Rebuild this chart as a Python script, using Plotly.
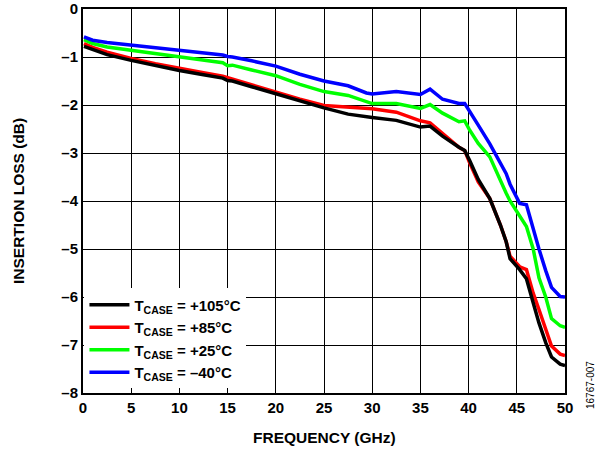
import plotly.graph_objects as go

freq_ghz = [0.1, 1, 2.5, 5, 7.5, 10, 12.5, 14.5, 15, 15.5, 17.5, 20, 22.5, 25, 27.5, 29.4, 30,
            32.5, 35, 36, 37.3, 39, 39.6, 40.1, 41, 42.2, 43.3, 43.9, 44.3, 45.3, 46, 46.7,
            47.3, 48, 48.6, 49.5, 50]

loss_m40 = [-0.58, -0.65, -0.70, -0.755, -0.81, -0.86, -0.91, -0.96, -0.99, -1.0, -1.08, -1.19,
            -1.36, -1.5, -1.6, -1.75, -1.77, -1.72, -1.78, -1.67, -1.88, -1.97, -1.97, -2.12,
            -2.42, -2.81, -3.2, -3.43, -3.65, -4.05, -4.08, -4.6, -5.0, -5.45, -5.8, -5.99, -6.0]

loss_p25 = [-0.64, -0.72, -0.79, -0.86, -0.94, -1.01, -1.08, -1.12, -1.18, -1.17, -1.27, -1.39,
            -1.57, -1.72, -1.8, -1.93, -1.97, -1.97, -2.07, -1.99, -2.17, -2.35, -2.33, -2.52,
            -2.8, -3.08, -3.6, -3.84, -4.0, -4.3, -4.53, -5.0, -5.6, -6.0, -6.45, -6.6, -6.63]

loss_p85 = [-0.72, -0.8, -0.9, -1.03, -1.14, -1.24, -1.33, -1.4, -1.43, -1.45, -1.57, -1.72,
            -1.88, -2.01, -2.05, -2.08, -2.08, -2.15, -2.33, -2.37, -2.6, -2.88, -2.95, -3.2,
            -3.6, -3.95, -4.5, -4.85, -5.15, -5.37, -5.43, -5.92, -6.26, -6.68, -7.02, -7.19, -7.22]

loss_p105 = [-0.78, -0.85, -0.95, -1.07, -1.18, -1.28, -1.37, -1.44, -1.49, -1.5, -1.62, -1.77,
             -1.91, -2.06, -2.19, -2.25, -2.26, -2.32, -2.46, -2.44, -2.65, -2.88, -2.95, -3.15,
             -3.55, -3.95, -4.5, -4.85, -5.2, -5.43, -5.62, -6.12, -6.54, -6.95, -7.25, -7.4, -7.43]

series_names = ["T<sub>CASE</sub> = +105°C", "T<sub>CASE</sub> = +85°C",
                "T<sub>CASE</sub> = +25°C", "T<sub>CASE</sub> = –40°C"]
series_colors = ["#000000", "#FF0000", "#00FF00", "#0000FF"]
series_values = [loss_p105, loss_p85, loss_p25, loss_m40]

x_ticks = [0, 5, 10, 15, 20, 25, 30, 35, 40, 45, 50]
y_ticks = [0, -1, -2, -3, -4, -5, -6, -7, -8]
y_tick_text = ["0", "–1", "–2", "–3", "–4", "–5", "–6", "–7", "–8"]

FONT = "Liberation Sans, Arial, sans-serif"

fig = go.Figure()
draw_order = [1, 0, 2, 3]
for i in draw_order:
    fig.add_trace(go.Scatter(
        x=freq_ghz, y=series_values[i], mode="lines",
        name="<b>" + series_names[i] + "</b>",
        line=dict(color=series_colors[i], width=3.5),
        legendrank=i + 1,
    ))

axis_font = dict(family=FONT, size=15, color="black")

fig.update_layout(
    width=605, height=449,
    margin=dict(l=83, r=40, t=9, b=56),
    paper_bgcolor="white", plot_bgcolor="white",
    font=dict(family=FONT, color="black"),
    showlegend=True,
    legend=dict(
        x=0.003, y=0.012, xanchor="left", yanchor="bottom",
        bgcolor="white", borderwidth=0,
        font=dict(family=FONT, size=15, color="black"),
        tracegroupgap=0, itemwidth=40,
    ),
    xaxis=dict(
        range=[0, 50], tickvals=x_ticks, ticktext=[f"<b>{v}</b>" for v in x_ticks],
        showgrid=True, gridcolor="black", gridwidth=1.3,
        showline=True, linecolor="black", linewidth=2, mirror=True,
        zeroline=False, ticks="", tickfont=axis_font, automargin=False,
        ticklabeloverflow="allow",
    ),
    yaxis=dict(
        range=[-8, 0], tickvals=y_ticks, ticktext=[f"<b>{t}</b>" for t in y_tick_text],
        showgrid=True, gridcolor="black", gridwidth=1.3,
        showline=True, linecolor="black", linewidth=2, mirror=True,
        zeroline=False, ticks="", tickfont=axis_font, automargin=False,
        ticklabeloverflow="allow",
    ),
)

fig.add_annotation(
    text="<b>FREQUENCY (GHz)</b>", x=0.5, y=0, xref="paper", yref="paper",
    xanchor="center", yanchor="middle", yshift=-44, showarrow=False,
    font=dict(family=FONT, size=15.5, color="black"),
)
fig.add_annotation(
    text="<b>INSERTION LOSS (dB)</b>", x=0, y=0.5, xref="paper", yref="paper",
    xanchor="center", yanchor="middle", xshift=-65, textangle=-90, showarrow=False,
    font=dict(family=FONT, size=15.5, color="black"),
)
fig.add_annotation(
    text="16767-007", x=1.0, y=0.0, xref="paper", yref="paper",
    xanchor="center", yanchor="middle", xshift=25, yshift=8, textangle=-90, showarrow=False,
    font=dict(family=FONT, size=10, color="black"),
)

fig.write_html("out.html", config={"displayModeBar": False},
               post_script="document.body.style.margin='0';")
